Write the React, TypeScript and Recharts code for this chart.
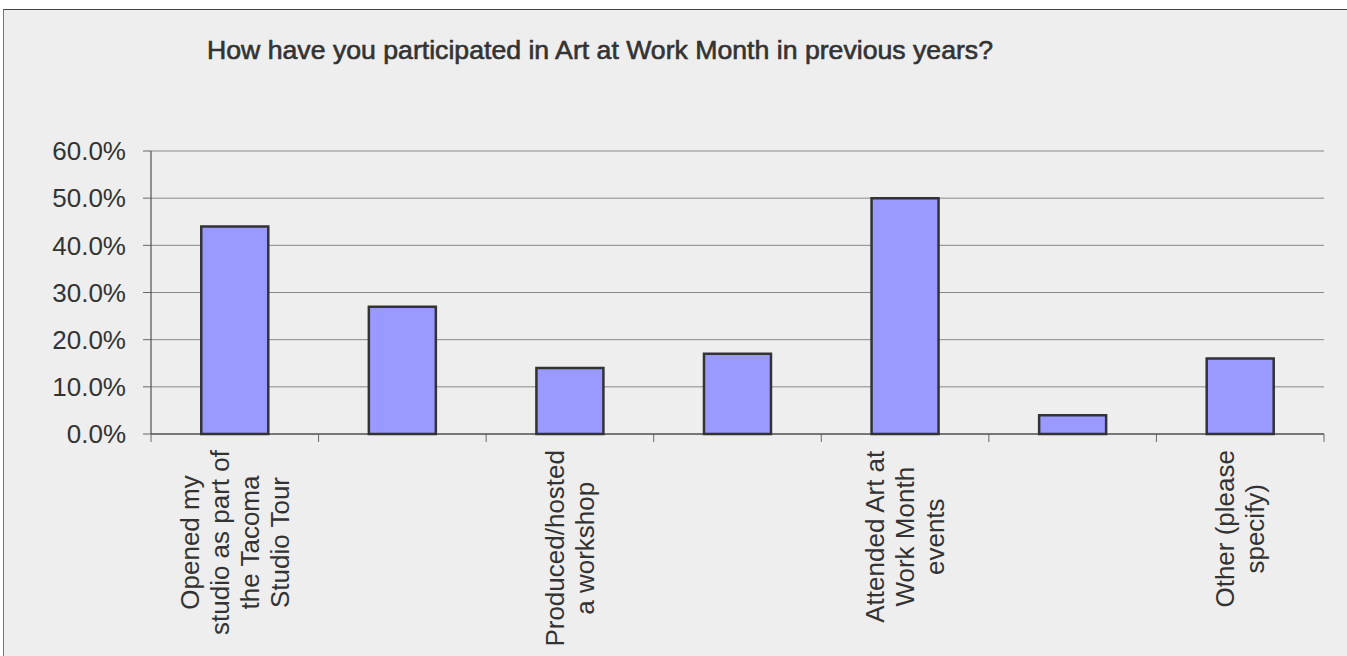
import React from 'react';
import { BarChart, Bar, XAxis, YAxis, CartesianGrid } from 'recharts';

const TITLE = 'How have you participated in Art at Work Month in previous years?';

// label lines per category; empty ones are not printed in the original
const CATEGORY_LABELS = [
  ['Opened my', 'studio as part of', 'the Tacoma', 'Studio Tour'],
  [],
  ['Produced/hosted', 'a workshop'],
  [],
  ['Attended Art at', 'Work Month', 'events'],
  [],
  ['Other (please', 'specify)'],
];
const SHARES = [0.44, 0.27, 0.14, 0.17, 0.5, 0.04, 0.16];
const Y_TICKS = [0, 0.1, 0.2, 0.3, 0.4, 0.5, 0.6];

const FONT = "'Liberation Sans', Arial, sans-serif";
const TEXT = '#333333';

const W = 1347;
const H = 656;
const PLOT_LEFT = 151;
const PLOT_RIGHT = 1324;
const PLOT_TOP = 151;
const PLOT_BOTTOM = 434;
const Y_AXIS_W = 140;
const X_AXIS_H = 200;
const BAND = (PLOT_RIGHT - PLOT_LEFT) / CATEGORY_LABELS.length;

const data = CATEGORY_LABELS.map((lines, i) => ({
  name: lines.length ? lines.join(' ') : `cat${i + 1}`,
  share: SHARES[i],
}));

const ctx = typeof document !== 'undefined' ? document.createElement('canvas').getContext('2d') : null;
const measure = (s: string) => {
  if (!ctx) return s.length * 13;
  ctx.font = `26px ${FONT}`;
  return ctx.measureText(s).width;
};

const CategoryTick = (props: any) => {
  const { x, y, index } = props;
  const lines: string[] = CATEGORY_LABELS[index] || [];
  const longest = Math.max(0, ...lines.map(measure));
  const cy = y + 16 + longest / 2;
  const last = index === CATEGORY_LABELS.length - 1;
  return (
    <g>
      <line x1={x - BAND / 2} x2={x - BAND / 2} y1={y} y2={y + 8} stroke="#666" />
      {last && <line x1={x + BAND / 2} x2={x + BAND / 2} y1={y} y2={y + 8} stroke="#666" />}
      {lines.map((l, i) => {
        const lx = x + (i - (lines.length - 1) / 2) * 30;
        return (
          <text
            key={i}
            x={lx}
            y={cy}
            transform={`rotate(-90 ${lx} ${cy})`}
            textAnchor="middle"
            dominantBaseline="central"
            fontSize={26}
            fontFamily={FONT}
            fill={TEXT}
          >
            {l}
          </text>
        );
      })}
    </g>
  );
};

export default function App() {
  return (
    <div style={{ position: 'absolute', left: 0, top: 0, width: W, height: H, background: '#fff', overflow: 'hidden' }}>
      <div
        style={{
          position: 'absolute',
          left: 3,
          top: 9,
          width: W,
          height: H,
          background: '#eeeeee',
          borderTop: '1px solid #444',
          borderLeft: '1px solid #777',
        }}
      />
      <svg style={{ position: 'absolute', left: 0, top: 0 }} width={W} height={H}>
        <text
          x={207}
          y={59}
          fontSize={25}
          fontFamily={FONT}
          fill={TEXT}
          stroke={TEXT}
          strokeWidth={0.6}
          textLength={786}
          lengthAdjust="spacingAndGlyphs"
        >
          {TITLE}
        </text>
      </svg>
      <div style={{ position: 'absolute', left: 0, top: 0 }}>
        <BarChart
          width={W}
          height={H}
          data={data}
          barCategoryGap="30%"
          margin={{
            top: PLOT_TOP,
            right: W - PLOT_RIGHT,
            bottom: H - PLOT_BOTTOM - X_AXIS_H,
            left: PLOT_LEFT - Y_AXIS_W,
          }}
        >
          <CartesianGrid vertical={false} stroke="#888" />
          <XAxis
            dataKey="name"
            interval={0}
            height={X_AXIS_H}
            tickLine={false}
            tickSize={0}
            tickMargin={0}
            axisLine={{ stroke: '#333' }}
            tick={(p: any) => <CategoryTick {...p} />}
          />
          <YAxis
            domain={[0, 0.6]}
            ticks={Y_TICKS}
            width={Y_AXIS_W}
            tickSize={8}
            tickMargin={17}
            tickLine={{ stroke: '#666' }}
            axisLine={{ stroke: '#333' }}
            tick={{ fontSize: 26, fill: TEXT, fontFamily: FONT }}
            tickFormatter={(v: number) => `${(v * 100).toFixed(1)}%`}
          />
          <Bar dataKey="share" fill="#9999ff" stroke="#333" strokeWidth={2.5} isAnimationActive={false} />
        </BarChart>
      </div>
    </div>
  );
}
